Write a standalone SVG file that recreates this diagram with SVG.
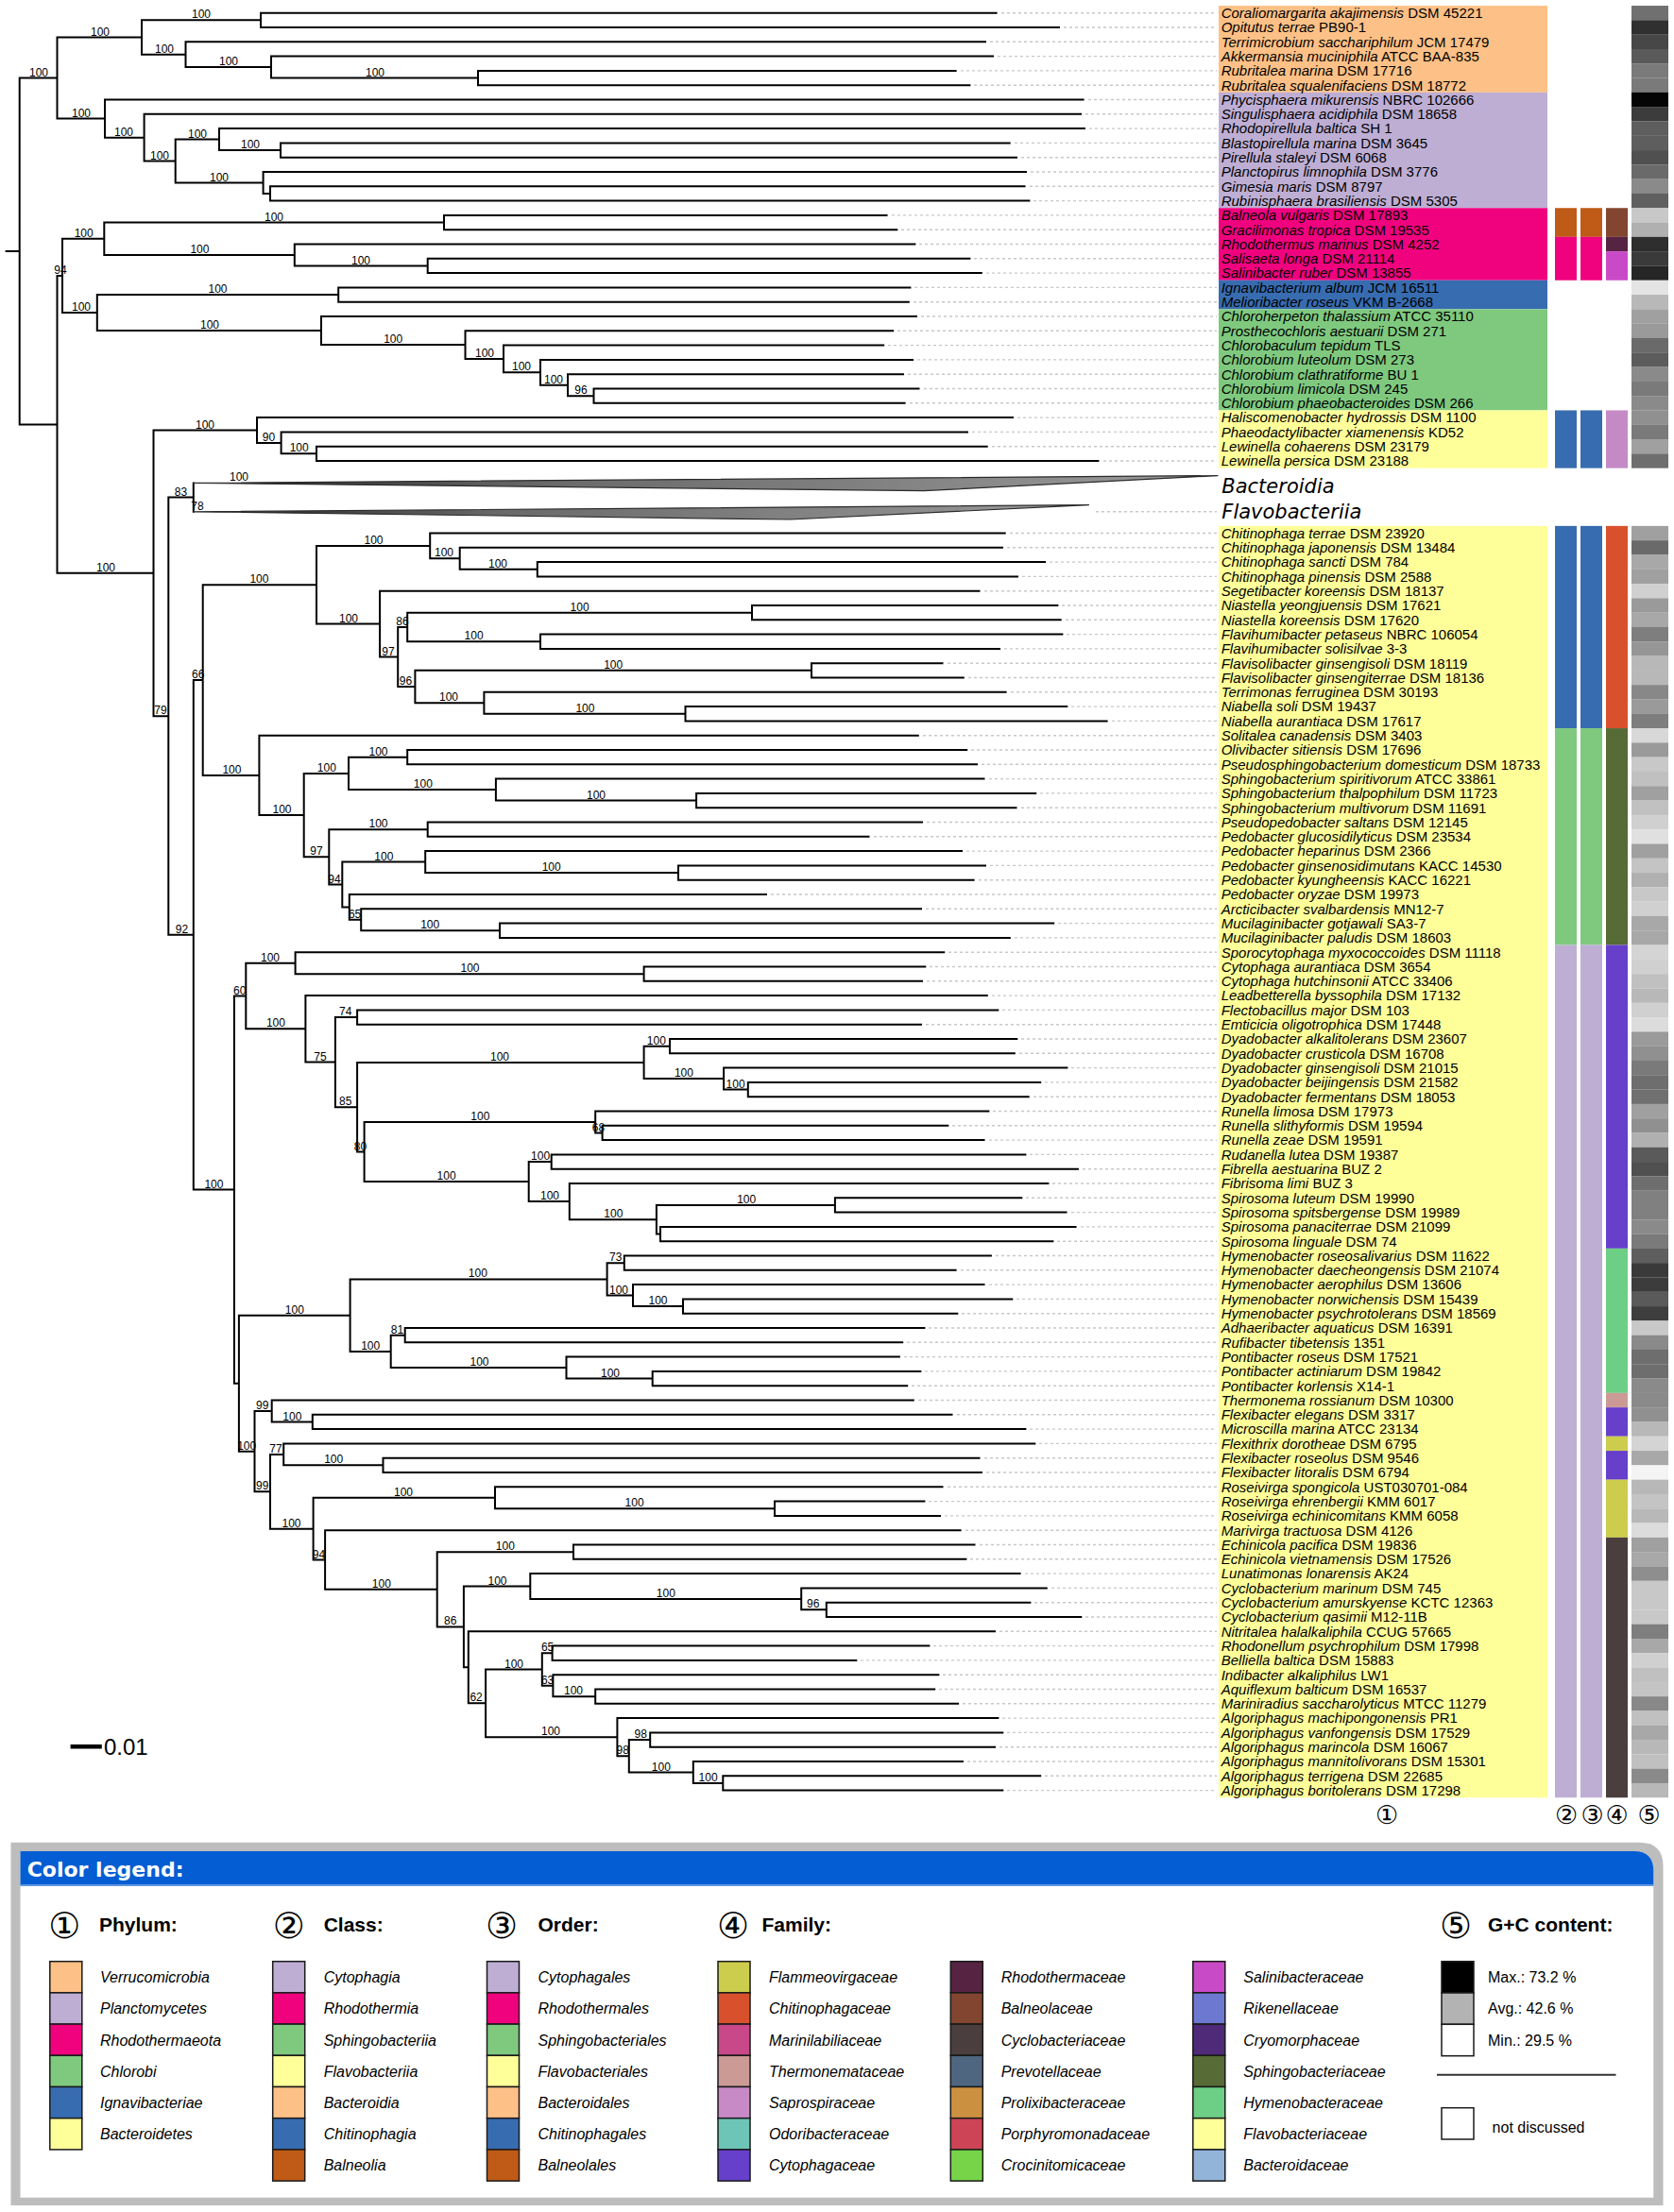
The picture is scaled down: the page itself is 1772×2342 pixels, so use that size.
<svg xmlns="http://www.w3.org/2000/svg" width="1772" height="2342" viewBox="0 0 1772 2342">
<defs>
<style>
.t{font-family:"Liberation Sans",Arial,sans-serif;font-size:15px;fill:#000}
.i{font-style:italic}
.bs{font-family:"Liberation Sans",Arial,sans-serif;font-size:12px;text-anchor:middle;fill:#000}
.br{fill:none;stroke:#000;stroke-width:2;stroke-linecap:square}
.dash{fill:none;stroke:#c8c8c8;stroke-width:1.4;stroke-dasharray:3 3}
.cl{font-family:"DejaVu Sans",sans-serif;fill:#000}
.lh{font-family:"Liberation Sans",Arial,sans-serif;font-size:21px;font-weight:bold;fill:#000}
.ll{font-family:"Liberation Sans",Arial,sans-serif;font-size:16px;font-style:italic;fill:#000}
.lr{font-family:"Liberation Sans",Arial,sans-serif;font-size:16px;fill:#000}
.sw{stroke:#1a1a1a;stroke-width:1.5}
</style>
<linearGradient id="tg" x1="0" y1="0" x2="1" y2="0">
<stop offset="0" stop-color="#222"/>
<stop offset="0.35" stop-color="#6a6a6a"/>
<stop offset="1" stop-color="#9a9a9a"/>
</linearGradient>
</defs>
<rect width="1772" height="2342" fill="#fff"/>

<g id="label-backgrounds" transform="translate(1290,6.05)">
<rect x="0" y="0" width="348" height="91.8" fill="#FDC086"/>
<rect x="0" y="91.8" width="348" height="122.4" fill="#BEAED4"/>
<rect x="0" y="214.2" width="348" height="76.5" fill="#F0027F"/>
<rect x="0" y="290.7" width="348" height="30.6" fill="#386CB0"/>
<rect x="0" y="321.3" width="348" height="107.1" fill="#7FC97F"/>
<rect x="0" y="428.4" width="348" height="61.2" fill="#FFFF99"/>
<rect x="0" y="550.8" width="348" height="1346.4" fill="#FFFF99"/>
</g>

<g id="connectors">
<path class="dash" d="M1060 13.7H1288M1126 29H1288M1048 44.3H1288M1056 59.6H1288M1017 74.9H1288M1031 90.2H1288M1152 105.5H1288M1149 120.8H1288M1153 136.1H1288M1074 151.4H1288M1081 166.7H1288M1091 182H1288M1090 197.3H1288M1094 212.6H1288M944 227.9H1288M954 243.2H1288M973 258.5H1288M1031 273.8H1288M1044 289.1H1288M968 304.4H1288M967 319.7H1288M975 335H1288M950 350.3H1288M940 365.6H1288M971 380.9H1288M961 396.2H1288M978 411.5H1288M963 426.8H1288M1077 442.1H1288M1029 457.4H1288M1050 472.7H1288M1168 488H1288M1160 541.8H1288M1069 564.5H1288M1066 579.8H1288M1111 595.1H1288M1082 610.4H1288M1042 625.7H1288M1124 641H1288M1128 656.3H1288M1129 671.6H1288M1063 686.9H1288M1003 702.2H1288M1025 717.5H1288M1070 732.8H1288M1134 748.1H1288M1177 763.4H1288M977 778.7H1288M1028 794H1288M1039 809.3H1288M1047 824.6H1288M1101 839.9H1288M1081 855.2H1288M981 870.5H1288M925 885.8H1288M1023 901.1H1288M1048 916.4H1288M1036 931.7H1288M816 947H1288M980 962.3H1288M1120 977.6H1288M1074 992.9H1288M1004 1008.2H1288M984 1023.5H1288M981 1038.8H1288M1050 1054.1H1288M1061 1069.4H1288M980 1084.7H1288M1081 1100H1288M1079 1115.3H1288M1134 1130.6H1288M1106 1145.9H1288M1094 1161.2H1288M1051 1176.5H1288M1008 1191.8H1288M1047 1207.1H1288M1090 1222.4H1288M1146 1237.7H1288M1114 1253H1288M1086 1268.3H1288M1134 1283.6H1288M1144 1298.9H1288M1119 1314.2H1288M1054 1329.5H1288M1017 1344.8H1288M1047 1360.1H1288M1076 1375.4H1288M1018 1390.7H1288M983 1406H1288M960 1421.3H1288M957 1436.6H1288M979 1451.9H1288M965 1467.2H1288M972 1482.5H1288M1013 1497.8H1288M1090 1513.1H1288M1100 1528.4H1288M1042 1543.7H1288M1044 1559H1288M1003 1574.3H1288M983 1589.6H1288M1000 1604.9H1288M1022 1620.2H1288M1037 1635.5H1288M1027 1650.8H1288M1085 1666.1H1288M1113 1681.4H1288M1095 1696.7H1288M1149 1712H1288M1058 1727.3H1288M988 1742.6H1288M911 1757.9H1288M998 1773.2H1288M994 1788.5H1288M1019 1803.8H1288M1061 1819.1H1288M1066 1834.4H1288M1058 1849.7H1288M1024 1865H1288M1106 1880.3H1288M1066 1895.6H1288"/>
<path class="br" d="M6.6 266H20.7M20.7 82.56V449.4M20.7 82.56H60.5M20.7 449.4H60.5
M60.5 39.52V125.6M60.5 39.52H150M60.5 125.6H111
M150 21.35V57.69M150 21.35H276M150 57.69H196.5
M276 13.7V29M276 13.7H1054.6M276 29H1121
M196.5 44.3V71.08M196.5 44.3H1043M196.5 71.08H287
M287 59.6V82.55M287 59.6H1051M287 82.55H506
M506 74.9V90.2M506 74.9H1011.6M506 90.2H1026.4
M111 105.5V145.7M111 105.5H1146.6M111 145.7H152.6
M152.6 120.8V170.55M152.6 120.8H1144M152.6 170.55H185.7
M185.7 147.6V193.5M185.7 147.6H232M185.7 193.5H278.6
M232 136.1V159.05M232 136.1H1148M232 159.05H297
M297 151.4V166.7M297 151.4H1068.7M297 166.7H1076
M278.6 182V204.95M278.6 182H1086M278.6 204.95H286
M286 197.3V212.6M286 197.3H1084.5M286 212.6H1089.4
M60.5 291.9V606.85M60.5 291.9H66M60.5 606.85H162.5
M66 252.8V331.05M66 252.8H110.3M66 331.05H102.8
M110.3 235.55V269.98M110.3 235.55H470M110.3 269.98H311.8
M470 227.9V243.2M470 227.9H938.5M470 243.2H949.3
M311.8 258.5V281.45M311.8 258.5H968.4M311.8 281.45H452.7
M452.7 273.8V289.1M452.7 273.8H1026.4M452.7 289.1H1038.8
M102.8 312.05V350.05M102.8 312.05H358.2M102.8 350.05H340
M358.2 304.4V319.7M358.2 304.4H963.4M358.2 319.7H961.8
M340 335V365.1M340 335H970M340 365.1H492.5
M492.5 350.3V379.95M492.5 350.3H945.2M492.5 379.95H533
M533 365.6V394.3M533 365.6H935.2M533 394.3H572
M572 380.9V407.7M572 380.9H966M572 407.7H601
M601 396.2V419.15M601 396.2H956M601 419.15H628.5
M628.5 411.5V426.8M628.5 411.5H972.5M628.5 426.8H957.6
M162.5 455.5V758.2M162.5 455.5H272M162.5 758.2H178.3
M272 442.1V468.9M272 442.1H1072M272 468.9H297.6
M297.6 457.4V480.35M297.6 457.4H1024M297.6 480.35H335
M335 472.7V488M335 472.7H1044.7M335 488H1162.4
M178.3 526.6V989.85M178.3 526.6H204.8M178.3 989.85H204.8
M204.8 511.4V541.8
M204.8 720.1V1259.6M204.8 720.1H214.7M204.8 1259.6H247.9
M214.7 619.25V820.9M214.7 619.25H335M214.7 820.9H274.4
M335 577.9V660.6M335 577.9H455.2M335 660.6H402.1
M455.2 564.5V591.3M455.2 564.5H1063.7M455.2 591.3H486.7
M486.7 579.8V602.75M486.7 579.8H1061M486.7 602.75H568.8
M568.8 595.1V610.4M568.8 595.1H1106M568.8 610.4H1077
M402.1 625.7V695.5M402.1 625.7H1036.5M402.1 695.5H421.2
M421.2 663.95V727.1M421.2 663.95H431.2M421.2 727.1H439.4
M431.2 648.65V679.25M431.2 648.65H796M431.2 679.25H572
M796 641V656.3M796 641H1119.4M796 656.3H1122.7
M572 671.6V686.9M572 671.6H1124.4M572 686.9H1058
M439.4 709.85V744.3M439.4 709.85H859M439.4 744.3H512.4
M859 702.2V717.5M859 702.2H997.5M859 717.5H1019.8
M512.4 732.8V755.75M512.4 732.8H1064.6M512.4 755.75H725.5
M725.5 748.1V763.4M725.5 748.1H1129.3M725.5 763.4H1171.6
M274.4 778.7V863.1M274.4 778.7H971.8M274.4 863.1H321.7
M321.7 818.9V907.3M321.7 818.9H369M321.7 907.3H348.3
M369 801.65V836.1M369 801.65H431.2M369 836.1H524.9
M431.2 794V809.3M431.2 794H1023.2M431.2 809.3H1034
M524.9 824.6V847.55M524.9 824.6H1041.5M524.9 847.55H737.1
M737.1 839.9V855.2M737.1 839.9H1096.2M737.1 855.2H1075.5
M348.3 878.15V936.5M348.3 878.15H452.7M348.3 936.5H362.3
M452.7 870.5V885.8M452.7 870.5H976M452.7 885.8H919.5
M362.3 912.6V960.4M362.3 912.6H450.2M362.3 960.4H369.8
M450.2 901.1V924.05M450.2 901.1H1018M450.2 924.05H718
M718 916.4V931.7M718 916.4H1043M718 931.7H1030.6
M369.8 947V973.8M369.8 947H811M369.8 973.8H382.2
M382.2 962.3V985.25M382.2 962.3H975M382.2 985.25H529
M529 977.6V992.9M529 977.6H1115.2M529 992.9H1068.8
M247.9 1054.5V1464.65M247.9 1054.5H260.3M247.9 1464.65H252.9
M260.3 1019.7V1089.35M260.3 1019.7H312.6M260.3 1089.35H323.4
M312.6 1008.2V1031.15M312.6 1008.2H999.2M312.6 1031.15H681.6
M681.6 1023.5V1038.8M681.6 1023.5H979.3M681.6 1038.8H976
M323.4 1054.1V1124.6M323.4 1054.1H1044.8M323.4 1124.6H354.9
M354.9 1077.05V1172.2M354.9 1077.05H378.1M354.9 1172.2H378.1
M378.1 1069.4V1084.7M378.1 1069.4H1056.3M378.1 1084.7H975
M378.1 1124.9V1219.55M378.1 1124.9H681.6M378.1 1219.55H385.6
M681.6 1107.65V1142.1M681.6 1107.65H709M681.6 1142.1H766.1
M709 1100V1115.3M709 1100H1076.3M709 1115.3H1073.8
M766.1 1130.6V1153.55M766.1 1130.6H1129.4M766.1 1153.55H791.8
M791.8 1145.9V1161.2M791.8 1145.9H1101.2M791.8 1161.2H1088.7
M385.6 1188V1251.1M385.6 1188H630.2M385.6 1251.1H559.7
M630.2 1176.5V1199.45M630.2 1176.5H1046.4M630.2 1199.45H637.6
M637.6 1191.8V1207.1M637.6 1191.8H1003.3M637.6 1207.1H1041.5
M559.7 1230.05V1272.1M559.7 1230.05H583.7M559.7 1272.1H602.8
M583.7 1222.4V1237.7M583.7 1222.4H1085.4M583.7 1237.7H1140.9
M602.8 1253V1291.25M602.8 1253H1109.4M602.8 1291.25H694.9
M694.9 1275.95V1306.55M694.9 1275.95H883.9M694.9 1306.55H699
M883.9 1268.3V1283.6M883.9 1268.3H1081.3M883.9 1283.6H1128.5
M699 1298.9V1314.2M699 1298.9H1138.5M699 1314.2H1114.4
M252.9 1392.65V1536.65M252.9 1392.65H370.6M252.9 1536.65H269.5
M370.6 1354.4V1430.9M370.6 1354.4H642.6M370.6 1430.9H413.7
M642.6 1337.15V1371.6M642.6 1337.15H660.8M642.6 1371.6H670
M660.8 1329.5V1344.8M660.8 1329.5H1048.9M660.8 1344.8H1011.6
M670 1360.1V1383.05M670 1360.1H1041.5M670 1383.05H723
M723 1375.4V1390.7M723 1375.4H1071.3M723 1390.7H1013.3
M413.7 1413.65V1448.1M413.7 1413.65H428.7M413.7 1448.1H599.5
M428.7 1406V1421.3M428.7 1406H978.4M428.7 1421.3H955.2
M599.5 1436.6V1459.55M599.5 1436.6H951.9M599.5 1459.55H690.7
M690.7 1451.9V1467.2M690.7 1451.9H974.3M690.7 1467.2H960.2
M269.5 1494V1579.3M269.5 1494H287.7M269.5 1579.3H286
M287.7 1482.5V1505.45M287.7 1482.5H966.8M287.7 1505.45H330.8
M330.8 1497.8V1513.1M330.8 1497.8H1007.5M330.8 1513.1H1085.4
M286 1539.9V1618.65M286 1539.9H300.2M286 1618.65H331.6
M300.2 1528.4V1551.35M300.2 1528.4H1095.3M300.2 1551.35H405.5
M405.5 1543.7V1559M405.5 1543.7H1036.5M405.5 1559H1039
M331.6 1585.8V1651.5M331.6 1585.8H524M331.6 1651.5H344.1
M524 1574.3V1597.25M524 1574.3H997.5M524 1597.25H820
M820 1589.6V1604.9M820 1589.6H978.4M820 1604.9H995
M344.1 1620.2V1682.8M344.1 1620.2H1016.6M344.1 1682.8H462.7
M462.7 1643.15V1722.4M462.7 1643.15H607M462.7 1722.4H490.9
M607 1635.5V1650.8M607 1635.5H1031.5M607 1650.8H1022.4
M490.9 1679.5V1765.3M490.9 1679.5H561.3M490.9 1765.3H495.8
M561.3 1666.1V1692.9M561.3 1666.1H1079.6M561.3 1692.9H848.2
M848.2 1681.4V1704.35M848.2 1681.4H1107.8M848.2 1704.35H874.8
M874.8 1696.7V1712M874.8 1696.7H1090.4M874.8 1712H1144.3
M495.8 1727.3V1803.35M495.8 1727.3H1053M495.8 1803.35H514.1
M514.1 1767.5V1839.2M514.1 1767.5H573.8M514.1 1839.2H653.4
M573.8 1750.25V1784.7M573.8 1750.25H584.6M573.8 1784.7H585.4
M584.6 1742.6V1757.9M584.6 1742.6H983.4M584.6 1757.9H906.3
M585.4 1773.2V1796.15M585.4 1773.2H993.4M585.4 1796.15H630.2
M630.2 1788.5V1803.8M630.2 1788.5H989.2M630.2 1803.8H1014.1
M653.4 1819.1V1859.3M653.4 1819.1H1056.4M653.4 1859.3H665.8
M665.8 1842.05V1876.5M665.8 1842.05H688.2M665.8 1876.5H733.8
M688.2 1834.4V1849.7M688.2 1834.4H1061.3M688.2 1849.7H1053
M733.8 1865V1887.95M733.8 1865H1019M733.8 1887.95H765.3
M765.3 1880.3V1895.6M765.3 1880.3H1101.2M765.3 1895.6H1061.3"/>
</g>

<g id="clade-Bacteroidia">
<polygon points="204.8,511.4 1289,503.6 978,519.6" fill="url(#tg)" stroke="#2a2a2a" stroke-width="1.2" stroke-linejoin="round"/>
<text x="1293.3" y="521.7" font-family="DejaVu Sans,sans-serif" font-size="21" font-style="italic">Bacteroidia</text>
</g>
<g id="clade-Flavobacteriia">
<polygon points="204.8,541.8 1152.5,534.6 837,550" fill="url(#tg)" stroke="#2a2a2a" stroke-width="1.2" stroke-linejoin="round"/>
<text x="1293.3" y="549.3" font-family="DejaVu Sans,sans-serif" font-size="21" font-style="italic">Flavobacteriia</text>
</g>

<g id="support" class="bs">
<text x="41" y="80.6">100</text><text x="106" y="37.5">100</text><text x="213" y="19.4">100</text><text x="174" y="55.7">100</text><text x="242" y="69.1">100</text><text x="397" y="80.6">100</text><text x="86" y="123.6">100</text><text x="131" y="143.7">100</text><text x="169" y="168.6">100</text><text x="209" y="145.6">100</text><text x="265" y="157">100</text><text x="232" y="191.5">100</text>
<text x="64" y="289.9">94</text><text x="88.7" y="250.8">100</text><text x="290" y="233.6">100</text><text x="211.4" y="268">100</text><text x="382" y="279.5">100</text><text x="86" y="329">100</text><text x="230.5" y="310">100</text><text x="222" y="348">100</text><text x="416.2" y="363.1">100</text><text x="513" y="378">100</text><text x="552" y="392.3">100</text><text x="586" y="405.7">100</text><text x="615" y="417.2">96</text>
<text x="112" y="604.9">100</text><text x="217" y="453.5">100</text><text x="284.4" y="466.9">90</text><text x="316.7" y="478.4">100</text><text x="170" y="756.2">79</text><text x="191.5" y="524.6">83</text><text x="253" y="509">100</text><text x="209" y="540">78</text><text x="192.4" y="987.9">92</text><text x="209.8" y="718.1">66</text>
<text x="274.4" y="617.3">100</text><text x="395.5" y="575.9">100</text><text x="470" y="589.3">100</text><text x="527" y="600.8">100</text><text x="369" y="658.6">100</text><text x="411" y="693.5">97</text><text x="426" y="662">86</text><text x="613.6" y="646.7">100</text><text x="501.6" y="677.3">100</text><text x="429.5" y="725.1">96</text><text x="649.2" y="707.9">100</text><text x="475" y="742.3">100</text><text x="619.4" y="753.8">100</text>
<text x="245.4" y="818.9">100</text><text x="298.5" y="861.1">100</text><text x="345.8" y="816.9">100</text><text x="400.5" y="799.7">100</text><text x="447.8" y="834.1">100</text><text x="631" y="845.6">100</text><text x="335" y="905.3">97</text><text x="400.5" y="876.2">100</text><text x="354" y="934.5">94</text><text x="406.3" y="910.6">100</text><text x="583.7" y="922.1">100</text><text x="375.6" y="971.8">65</text><text x="455.2" y="983.3">100</text>
<text x="226.4" y="1257.6">100</text><text x="253.7" y="1052.5">60</text><text x="286" y="1017.7">100</text><text x="497.5" y="1029.2">100</text><text x="291.9" y="1087.4">100</text><text x="339" y="1122.6">75</text><text x="365.7" y="1075.1">74</text><text x="365.7" y="1170.2">85</text><text x="529" y="1122.9">100</text><text x="694.8" y="1105.7">100</text><text x="723.9" y="1140.1">100</text><text x="778.6" y="1151.6">100</text><text x="381.4" y="1217.6">80</text><text x="508.3" y="1186">100</text><text x="633.5" y="1197.5">68</text><text x="472.6" y="1249.1">100</text><text x="572.1" y="1228.1">100</text><text x="582" y="1270.1">100</text><text x="649.3" y="1289.3">100</text><text x="790.2" y="1274">100</text>
<text x="311.8" y="1390.7">100</text><text x="505.8" y="1352.4">100</text><text x="651.7" y="1335.2">73</text><text x="655" y="1369.6">100</text><text x="696.5" y="1381.1">100</text><text x="392.2" y="1428.9">100</text><text x="420.4" y="1411.7">81</text><text x="507.5" y="1446.1">100</text><text x="646" y="1457.6">100</text>
<text x="261.2" y="1534.7">100</text><text x="277.8" y="1492">99</text><text x="309.3" y="1503.5">100</text><text x="277.8" y="1577.3">99</text><text x="291.9" y="1537.9">77</text><text x="353.2" y="1549.4">100</text><text x="308.5" y="1616.7">100</text><text x="427" y="1583.8">100</text><text x="671.6" y="1595.3">100</text><text x="337.5" y="1649.5">94</text><text x="403.8" y="1680.8">100</text><text x="534.8" y="1641.2">100</text><text x="476.8" y="1720.4">86</text><text x="526.5" y="1677.5">100</text><text x="704.8" y="1690.9">100</text><text x="860.7" y="1702.4">96</text><text x="504.1" y="1801.4">62</text><text x="544" y="1765.5">100</text><text x="579.6" y="1748.3">65</text><text x="579.6" y="1782.7">63</text><text x="607" y="1794.2">100</text><text x="583" y="1837.2">100</text><text x="659.2" y="1857.3">98</text><text x="678.3" y="1840.1">98</text><text x="699.8" y="1874.5">100</text><text x="749.6" y="1886">100</text>
</g>

<g id="scale-bar">
<line x1="74.6" y1="1849.3" x2="107.8" y2="1849.3" stroke="#000" stroke-width="4.5"/>
<text x="110" y="1858" font-family="Liberation Sans,Arial,sans-serif" font-size="24">0.01</text>
</g>

<g id="taxa" class="t" transform="translate(1292.7,19)">
<g id="n001"><text y="0"><tspan class="i">Coraliomargarita akajimensis</tspan> DSM 45221</text></g>
<g id="n002"><text y="15.3"><tspan class="i">Opitutus terrae</tspan> PB90-1</text></g>
<g id="n003"><text y="30.6"><tspan class="i">Terrimicrobium sacchariphilum</tspan> JCM 17479</text></g>
<g id="n004"><text y="45.9"><tspan class="i">Akkermansia muciniphila</tspan> ATCC BAA-835</text></g>
<g id="n005"><text y="61.2"><tspan class="i">Rubritalea marina</tspan> DSM 17716</text></g>
<g id="n006"><text y="76.5"><tspan class="i">Rubritalea squalenifaciens</tspan> DSM 18772</text></g>
<g id="n007"><text y="91.8"><tspan class="i">Phycisphaera mikurensis</tspan> NBRC 102666</text></g>
<g id="n008"><text y="107.1"><tspan class="i">Singulisphaera acidiphila</tspan> DSM 18658</text></g>
<g id="n009"><text y="122.4"><tspan class="i">Rhodopirellula baltica</tspan> SH 1</text></g>
<g id="n010"><text y="137.7"><tspan class="i">Blastopirellula marina</tspan> DSM 3645</text></g>
<g id="n011"><text y="153"><tspan class="i">Pirellula staleyi</tspan> DSM 6068</text></g>
<g id="n012"><text y="168.3"><tspan class="i">Planctopirus limnophila</tspan> DSM 3776</text></g>
<g id="n013"><text y="183.6"><tspan class="i">Gimesia maris</tspan> DSM 8797</text></g>
<g id="n014"><text y="198.9"><tspan class="i">Rubinisphaera brasiliensis</tspan> DSM 5305</text></g>
<g id="n015"><text y="214.2"><tspan class="i">Balneola vulgaris</tspan> DSM 17893</text></g>
<g id="n016"><text y="229.5"><tspan class="i">Gracilimonas tropica</tspan> DSM 19535</text></g>
<g id="n017"><text y="244.8"><tspan class="i">Rhodothermus marinus</tspan> DSM 4252</text></g>
<g id="n018"><text y="260.1"><tspan class="i">Salisaeta longa</tspan> DSM 21114</text></g>
<g id="n019"><text y="275.4"><tspan class="i">Salinibacter ruber</tspan> DSM 13855</text></g>
<g id="n020"><text y="290.7"><tspan class="i">Ignavibacterium album</tspan> JCM 16511</text></g>
<g id="n021"><text y="306"><tspan class="i">Melioribacter roseus</tspan> VKM B-2668</text></g>
<g id="n022"><text y="321.3"><tspan class="i">Chloroherpeton thalassium</tspan> ATCC 35110</text></g>
<g id="n023"><text y="336.6"><tspan class="i">Prosthecochloris aestuarii</tspan> DSM 271</text></g>
<g id="n024"><text y="351.9"><tspan class="i">Chlorobaculum tepidum</tspan> TLS</text></g>
<g id="n025"><text y="367.2"><tspan class="i">Chlorobium luteolum</tspan> DSM 273</text></g>
<g id="n026"><text y="382.5"><tspan class="i">Chlorobium clathratiforme</tspan> BU 1</text></g>
<g id="n027"><text y="397.8"><tspan class="i">Chlorobium limicola</tspan> DSM 245</text></g>
<g id="n028"><text y="413.1"><tspan class="i">Chlorobium phaeobacteroides</tspan> DSM 266</text></g>
<g id="n029"><text y="428.4"><tspan class="i">Haliscomenobacter hydrossis</tspan> DSM 1100</text></g>
<g id="n030"><text y="443.7"><tspan class="i">Phaeodactylibacter xiamenensis</tspan> KD52</text></g>
<g id="n031"><text y="459"><tspan class="i">Lewinella cohaerens</tspan> DSM 23179</text></g>
<g id="n032"><text y="474.3"><tspan class="i">Lewinella persica</tspan> DSM 23188</text></g>
<g id="n033"><text y="550.8"><tspan class="i">Chitinophaga terrae</tspan> DSM 23920</text></g>
<g id="n034"><text y="566.1"><tspan class="i">Chitinophaga japonensis</tspan> DSM 13484</text></g>
<g id="n035"><text y="581.4"><tspan class="i">Chitinophaga sancti</tspan> DSM 784</text></g>
<g id="n036"><text y="596.7"><tspan class="i">Chitinophaga pinensis</tspan> DSM 2588</text></g>
<g id="n037"><text y="612"><tspan class="i">Segetibacter koreensis</tspan> DSM 18137</text></g>
<g id="n038"><text y="627.3"><tspan class="i">Niastella yeongjuensis</tspan> DSM 17621</text></g>
<g id="n039"><text y="642.6"><tspan class="i">Niastella koreensis</tspan> DSM 17620</text></g>
<g id="n040"><text y="657.9"><tspan class="i">Flavihumibacter petaseus</tspan> NBRC 106054</text></g>
<g id="n041"><text y="673.2"><tspan class="i">Flavihumibacter solisilvae</tspan> 3-3</text></g>
<g id="n042"><text y="688.5"><tspan class="i">Flavisolibacter ginsengisoli</tspan> DSM 18119</text></g>
<g id="n043"><text y="703.8"><tspan class="i">Flavisolibacter ginsengiterrae</tspan> DSM 18136</text></g>
<g id="n044"><text y="719.1"><tspan class="i">Terrimonas ferruginea</tspan> DSM 30193</text></g>
<g id="n045"><text y="734.4"><tspan class="i">Niabella soli</tspan> DSM 19437</text></g>
<g id="n046"><text y="749.7"><tspan class="i">Niabella aurantiaca</tspan> DSM 17617</text></g>
<g id="n047"><text y="765"><tspan class="i">Solitalea canadensis</tspan> DSM 3403</text></g>
<g id="n048"><text y="780.3"><tspan class="i">Olivibacter sitiensis</tspan> DSM 17696</text></g>
<g id="n049"><text y="795.6"><tspan class="i">Pseudosphingobacterium domesticum</tspan> DSM 18733</text></g>
<g id="n050"><text y="810.9"><tspan class="i">Sphingobacterium spiritivorum</tspan> ATCC 33861</text></g>
<g id="n051"><text y="826.2"><tspan class="i">Sphingobacterium thalpophilum</tspan> DSM 11723</text></g>
<g id="n052"><text y="841.5"><tspan class="i">Sphingobacterium multivorum</tspan> DSM 11691</text></g>
<g id="n053"><text y="856.8"><tspan class="i">Pseudopedobacter saltans</tspan> DSM 12145</text></g>
<g id="n054"><text y="872.1"><tspan class="i">Pedobacter glucosidilyticus</tspan> DSM 23534</text></g>
<g id="n055"><text y="887.4"><tspan class="i">Pedobacter heparinus</tspan> DSM 2366</text></g>
<g id="n056"><text y="902.7"><tspan class="i">Pedobacter ginsenosidimutans</tspan> KACC 14530</text></g>
<g id="n057"><text y="918"><tspan class="i">Pedobacter kyungheensis</tspan> KACC 16221</text></g>
<g id="n058"><text y="933.3"><tspan class="i">Pedobacter oryzae</tspan> DSM 19973</text></g>
<g id="n059"><text y="948.6"><tspan class="i">Arcticibacter svalbardensis</tspan> MN12-7</text></g>
<g id="n060"><text y="963.9"><tspan class="i">Mucilaginibacter gotjawali</tspan> SA3-7</text></g>
<g id="n061"><text y="979.2"><tspan class="i">Mucilaginibacter paludis</tspan> DSM 18603</text></g>
<g id="n062"><text y="994.5"><tspan class="i">Sporocytophaga myxococcoides</tspan> DSM 11118</text></g>
<g id="n063"><text y="1009.8"><tspan class="i">Cytophaga aurantiaca</tspan> DSM 3654</text></g>
<g id="n064"><text y="1025.1"><tspan class="i">Cytophaga hutchinsonii</tspan> ATCC 33406</text></g>
<g id="n065"><text y="1040.4"><tspan class="i">Leadbetterella byssophila</tspan> DSM 17132</text></g>
<g id="n066"><text y="1055.7"><tspan class="i">Flectobacillus major</tspan> DSM 103</text></g>
<g id="n067"><text y="1071"><tspan class="i">Emticicia oligotrophica</tspan> DSM 17448</text></g>
<g id="n068"><text y="1086.3"><tspan class="i">Dyadobacter alkalitolerans</tspan> DSM 23607</text></g>
<g id="n069"><text y="1101.6"><tspan class="i">Dyadobacter crusticola</tspan> DSM 16708</text></g>
<g id="n070"><text y="1116.9"><tspan class="i">Dyadobacter ginsengisoli</tspan> DSM 21015</text></g>
<g id="n071"><text y="1132.2"><tspan class="i">Dyadobacter beijingensis</tspan> DSM 21582</text></g>
<g id="n072"><text y="1147.5"><tspan class="i">Dyadobacter fermentans</tspan> DSM 18053</text></g>
<g id="n073"><text y="1162.8"><tspan class="i">Runella limosa</tspan> DSM 17973</text></g>
<g id="n074"><text y="1178.1"><tspan class="i">Runella slithyformis</tspan> DSM 19594</text></g>
<g id="n075"><text y="1193.4"><tspan class="i">Runella zeae</tspan> DSM 19591</text></g>
<g id="n076"><text y="1208.7"><tspan class="i">Rudanella lutea</tspan> DSM 19387</text></g>
<g id="n077"><text y="1224"><tspan class="i">Fibrella aestuarina</tspan> BUZ 2</text></g>
<g id="n078"><text y="1239.3"><tspan class="i">Fibrisoma limi</tspan> BUZ 3</text></g>
<g id="n079"><text y="1254.6"><tspan class="i">Spirosoma luteum</tspan> DSM 19990</text></g>
<g id="n080"><text y="1269.9"><tspan class="i">Spirosoma spitsbergense</tspan> DSM 19989</text></g>
<g id="n081"><text y="1285.2"><tspan class="i">Spirosoma panaciterrae</tspan> DSM 21099</text></g>
<g id="n082"><text y="1300.5"><tspan class="i">Spirosoma linguale</tspan> DSM 74</text></g>
<g id="n083"><text y="1315.8"><tspan class="i">Hymenobacter roseosalivarius</tspan> DSM 11622</text></g>
<g id="n084"><text y="1331.1"><tspan class="i">Hymenobacter daecheongensis</tspan> DSM 21074</text></g>
<g id="n085"><text y="1346.4"><tspan class="i">Hymenobacter aerophilus</tspan> DSM 13606</text></g>
<g id="n086"><text y="1361.7"><tspan class="i">Hymenobacter norwichensis</tspan> DSM 15439</text></g>
<g id="n087"><text y="1377"><tspan class="i">Hymenobacter psychrotolerans</tspan> DSM 18569</text></g>
<g id="n088"><text y="1392.3"><tspan class="i">Adhaeribacter aquaticus</tspan> DSM 16391</text></g>
<g id="n089"><text y="1407.6"><tspan class="i">Rufibacter tibetensis</tspan> 1351</text></g>
<g id="n090"><text y="1422.9"><tspan class="i">Pontibacter roseus</tspan> DSM 17521</text></g>
<g id="n091"><text y="1438.2"><tspan class="i">Pontibacter actiniarum</tspan> DSM 19842</text></g>
<g id="n092"><text y="1453.5"><tspan class="i">Pontibacter korlensis</tspan> X14-1</text></g>
<g id="n093"><text y="1468.8"><tspan class="i">Thermonema rossianum</tspan> DSM 10300</text></g>
<g id="n094"><text y="1484.1"><tspan class="i">Flexibacter elegans</tspan> DSM 3317</text></g>
<g id="n095"><text y="1499.4"><tspan class="i">Microscilla marina</tspan> ATCC 23134</text></g>
<g id="n096"><text y="1514.7"><tspan class="i">Flexithrix dorotheae</tspan> DSM 6795</text></g>
<g id="n097"><text y="1530"><tspan class="i">Flexibacter roseolus</tspan> DSM 9546</text></g>
<g id="n098"><text y="1545.3"><tspan class="i">Flexibacter litoralis</tspan> DSM 6794</text></g>
<g id="n099"><text y="1560.6"><tspan class="i">Roseivirga spongicola</tspan> UST030701-084</text></g>
<g id="n100"><text y="1575.9"><tspan class="i">Roseivirga ehrenbergii</tspan> KMM 6017</text></g>
<g id="n101"><text y="1591.2"><tspan class="i">Roseivirga echinicomitans</tspan> KMM 6058</text></g>
<g id="n102"><text y="1606.5"><tspan class="i">Marivirga tractuosa</tspan> DSM 4126</text></g>
<g id="n103"><text y="1621.8"><tspan class="i">Echinicola pacifica</tspan> DSM 19836</text></g>
<g id="n104"><text y="1637.1"><tspan class="i">Echinicola vietnamensis</tspan> DSM 17526</text></g>
<g id="n105"><text y="1652.4"><tspan class="i">Lunatimonas lonarensis</tspan> AK24</text></g>
<g id="n106"><text y="1667.7"><tspan class="i">Cyclobacterium marinum</tspan> DSM 745</text></g>
<g id="n107"><text y="1683"><tspan class="i">Cyclobacterium amurskyense</tspan> KCTC 12363</text></g>
<g id="n108"><text y="1698.3"><tspan class="i">Cyclobacterium qasimii</tspan> M12-11B</text></g>
<g id="n109"><text y="1713.6"><tspan class="i">Nitritalea halalkaliphila</tspan> CCUG 57665</text></g>
<g id="n110"><text y="1728.9"><tspan class="i">Rhodonellum psychrophilum</tspan> DSM 17998</text></g>
<g id="n111"><text y="1744.2"><tspan class="i">Belliella baltica</tspan> DSM 15883</text></g>
<g id="n112"><text y="1759.5"><tspan class="i">Indibacter alkaliphilus</tspan> LW1</text></g>
<g id="n113"><text y="1774.8"><tspan class="i">Aquiflexum balticum</tspan> DSM 16537</text></g>
<g id="n114"><text y="1790.1"><tspan class="i">Mariniradius saccharolyticus</tspan> MTCC 11279</text></g>
<g id="n115"><text y="1805.4"><tspan class="i">Algoriphagus machipongonensis</tspan> PR1</text></g>
<g id="n116"><text y="1820.7"><tspan class="i">Algoriphagus vanfongensis</tspan> DSM 17529</text></g>
<g id="n117"><text y="1836"><tspan class="i">Algoriphagus marincola</tspan> DSM 16067</text></g>
<g id="n118"><text y="1851.3"><tspan class="i">Algoriphagus mannitolivorans</tspan> DSM 15301</text></g>
<g id="n119"><text y="1866.6"><tspan class="i">Algoriphagus terrigena</tspan> DSM 22685</text></g>
<g id="n120"><text y="1881.9"><tspan class="i">Algoriphagus boritolerans</tspan> DSM 17298</text></g>
</g>

<g id="class-bar" transform="translate(1646,6.05)">
<rect y="214.2" width="23" height="30.6" fill="#BF5B17"/>
<rect y="244.8" width="23" height="45.9" fill="#F0027F"/>
<rect y="428.4" width="23" height="61.2" fill="#386CB0"/>
<rect y="550.8" width="23" height="214.2" fill="#386CB0"/>
<rect y="765" width="23" height="229.5" fill="#7FC97F"/>
<rect y="994.5" width="23" height="902.7" fill="#BEAED4"/>
</g>
<g id="order-bar" transform="translate(1673,6.05)">
<rect y="214.2" width="23" height="30.6" fill="#BF5B17"/>
<rect y="244.8" width="23" height="45.9" fill="#F0027F"/>
<rect y="428.4" width="23" height="61.2" fill="#386CB0"/>
<rect y="550.8" width="23" height="214.2" fill="#386CB0"/>
<rect y="765" width="23" height="229.5" fill="#7FC97F"/>
<rect y="994.5" width="23" height="902.7" fill="#BEAED4"/>
</g>
<g id="family-bar" transform="translate(1700,6.05)">
<rect y="214.2" width="23" height="30.6" fill="#824530"/>
<rect y="244.8" width="23" height="15.3" fill="#562442"/>
<rect y="260.1" width="23" height="30.6" fill="#C94AC6"/>
<rect y="428.4" width="23" height="61.2" fill="#C48AC6"/>
<rect y="550.8" width="23" height="214.2" fill="#D9512C"/>
<rect y="765" width="23" height="229.5" fill="#566B35"/>
<rect y="994.5" width="23" height="321.3" fill="#663FCB"/>
<rect y="1315.8" width="23" height="153" fill="#6DCE85"/>
<rect y="1468.8" width="23" height="15.3" fill="#CC9A95"/>
<rect y="1484.1" width="23" height="30.6" fill="#663FCB"/>
<rect y="1514.7" width="23" height="15.3" fill="#CCCC4D"/>
<rect y="1530" width="23" height="30.6" fill="#663FCB"/>
<rect y="1560.6" width="23" height="61.2" fill="#CCCC4D"/>
<rect y="1621.8" width="23" height="275.4" fill="#4A3E3E"/>
</g>

<g id="gc-bar" transform="translate(1727,6.05)">
<rect y="0" width="39" height="15.4" fill="#707070"/><rect y="15.3" width="39" height="15.4" fill="#303030"/><rect y="30.6" width="39" height="15.4" fill="#474747"/><rect y="45.9" width="39" height="15.4" fill="#5a5a5a"/><rect y="61.2" width="39" height="15.4" fill="#7a7a7a"/><rect y="76.5" width="39" height="15.4" fill="#7a7a7a"/><rect y="91.8" width="39" height="15.4" fill="#050505"/><rect y="107.1" width="39" height="15.4" fill="#3c3c3c"/><rect y="122.4" width="39" height="15.4" fill="#5e5e5e"/><rect y="137.7" width="39" height="15.4" fill="#5e5e5e"/><rect y="153" width="39" height="15.4" fill="#505050"/><rect y="168.3" width="39" height="15.4" fill="#6a6a6a"/><rect y="183.6" width="39" height="15.4" fill="#8a8a8a"/><rect y="198.9" width="39" height="15.4" fill="#606060"/><rect y="214.2" width="39" height="15.4" fill="#c8c8c8"/><rect y="229.5" width="39" height="15.4" fill="#b0b0b0"/><rect y="244.8" width="39" height="15.4" fill="#2e2e2e"/><rect y="260.1" width="39" height="15.4" fill="#3a3a3a"/><rect y="275.4" width="39" height="15.4" fill="#262626"/><rect y="290.7" width="39" height="15.4" fill="#e4e4e4"/><rect y="306" width="39" height="15.4" fill="#b8b8b8"/><rect y="321.3" width="39" height="15.4" fill="#a0a0a0"/><rect y="336.6" width="39" height="15.4" fill="#9a9a9a"/><rect y="351.9" width="39" height="15.4" fill="#6a6a6a"/><rect y="367.2" width="39" height="15.4" fill="#5c5c5c"/><rect y="382.5" width="39" height="15.4" fill="#8a8a8a"/><rect y="397.8" width="39" height="15.4" fill="#7a7a7a"/><rect y="413.1" width="39" height="15.4" fill="#8a8a8a"/><rect y="428.4" width="39" height="15.4" fill="#909090"/><rect y="443.7" width="39" height="15.4" fill="#7a7a7a"/><rect y="459" width="39" height="15.4" fill="#a0a0a0"/><rect y="474.3" width="39" height="15.3" fill="#6e6e6e"/>
<rect y="550.8" width="39" height="15.4" fill="#a0a0a0"/><rect y="566.1" width="39" height="15.4" fill="#6a6a6a"/><rect y="581.4" width="39" height="15.4" fill="#a8a8a8"/><rect y="596.7" width="39" height="15.4" fill="#a0a0a0"/><rect y="612" width="39" height="15.4" fill="#d0d0d0"/><rect y="627.3" width="39" height="15.4" fill="#9a9a9a"/><rect y="642.6" width="39" height="15.4" fill="#a8a8a8"/><rect y="657.9" width="39" height="15.4" fill="#7e7e7e"/><rect y="673.2" width="39" height="15.4" fill="#969696"/><rect y="688.5" width="39" height="15.4" fill="#b8b8b8"/><rect y="703.8" width="39" height="15.4" fill="#b8b8b8"/><rect y="719.1" width="39" height="15.4" fill="#888888"/><rect y="734.4" width="39" height="15.4" fill="#9a9a9a"/><rect y="749.7" width="39" height="15.4" fill="#7e7e7e"/><rect y="765" width="39" height="15.4" fill="#d8d8d8"/><rect y="780.3" width="39" height="15.4" fill="#9a9a9a"/><rect y="795.6" width="39" height="15.4" fill="#c8c8c8"/><rect y="810.9" width="39" height="15.4" fill="#c0c0c0"/><rect y="826.2" width="39" height="15.4" fill="#a0a0a0"/><rect y="841.5" width="39" height="15.4" fill="#c0c0c0"/><rect y="856.8" width="39" height="15.4" fill="#d0d0d0"/><rect y="872.1" width="39" height="15.4" fill="#e0e0e0"/><rect y="887.4" width="39" height="15.4" fill="#a0a0a0"/><rect y="902.7" width="39" height="15.4" fill="#c4c4c4"/><rect y="918" width="39" height="15.4" fill="#b0b0b0"/><rect y="933.3" width="39" height="15.4" fill="#c8c8c8"/><rect y="948.6" width="39" height="15.4" fill="#d0d0d0"/><rect y="963.9" width="39" height="15.4" fill="#a8a8a8"/><rect y="979.2" width="39" height="15.4" fill="#a8a8a8"/><rect y="994.5" width="39" height="15.4" fill="#d4d4d4"/><rect y="1009.8" width="39" height="15.4" fill="#d0d0d0"/><rect y="1025.1" width="39" height="15.4" fill="#c0c0c0"/><rect y="1040.4" width="39" height="15.4" fill="#b8b8b8"/><rect y="1055.7" width="39" height="15.4" fill="#d0d0d0"/><rect y="1071" width="39" height="15.4" fill="#dcdcdc"/><rect y="1086.3" width="39" height="15.4" fill="#9a9a9a"/><rect y="1101.6" width="39" height="15.4" fill="#909090"/><rect y="1116.9" width="39" height="15.4" fill="#7a7a7a"/><rect y="1132.2" width="39" height="15.4" fill="#6e6e6e"/><rect y="1147.5" width="39" height="15.4" fill="#707070"/><rect y="1162.8" width="39" height="15.4" fill="#a0a0a0"/><rect y="1178.1" width="39" height="15.4" fill="#909090"/><rect y="1193.4" width="39" height="15.4" fill="#b0b0b0"/><rect y="1208.7" width="39" height="15.4" fill="#5a5a5a"/><rect y="1224" width="39" height="15.4" fill="#505050"/><rect y="1239.3" width="39" height="15.4" fill="#6e6e6e"/><rect y="1254.6" width="39" height="15.4" fill="#808080"/><rect y="1269.9" width="39" height="15.4" fill="#808080"/><rect y="1285.2" width="39" height="15.4" fill="#8a8a8a"/><rect y="1300.5" width="39" height="15.4" fill="#7a7a7a"/><rect y="1315.8" width="39" height="15.4" fill="#5e5e5e"/><rect y="1331.1" width="39" height="15.4" fill="#3a3a3a"/><rect y="1346.4" width="39" height="15.4" fill="#3c3c3c"/><rect y="1361.7" width="39" height="15.4" fill="#5a5a5a"/><rect y="1377" width="39" height="15.4" fill="#3e3e3e"/><rect y="1392.3" width="39" height="15.4" fill="#c8c8c8"/><rect y="1407.6" width="39" height="15.4" fill="#8a8a8a"/><rect y="1422.9" width="39" height="15.4" fill="#6e6e6e"/><rect y="1438.2" width="39" height="15.4" fill="#6e6e6e"/><rect y="1453.5" width="39" height="15.4" fill="#8a8a8a"/><rect y="1468.8" width="39" height="15.4" fill="#8a8a8a"/><rect y="1484.1" width="39" height="15.4" fill="#909090"/><rect y="1499.4" width="39" height="15.4" fill="#b8b8b8"/><rect y="1514.7" width="39" height="15.4" fill="#d4d4d4"/><rect y="1530" width="39" height="15.4" fill="#a8a8a8"/><rect y="1545.3" width="39" height="15.4" fill="#f4f4f4"/><rect y="1560.6" width="39" height="15.4" fill="#b8b8b8"/><rect y="1575.9" width="39" height="15.4" fill="#c4c4c4"/><rect y="1591.2" width="39" height="15.4" fill="#b8b8b8"/><rect y="1606.5" width="39" height="15.4" fill="#dcdcdc"/><rect y="1621.8" width="39" height="15.4" fill="#a0a0a0"/><rect y="1637.1" width="39" height="15.4" fill="#a8a8a8"/><rect y="1652.4" width="39" height="15.4" fill="#8e8e8e"/><rect y="1667.7" width="39" height="15.4" fill="#c8c8c8"/><rect y="1683" width="39" height="15.4" fill="#c8c8c8"/><rect y="1698.3" width="39" height="15.4" fill="#c8c8c8"/><rect y="1713.6" width="39" height="15.4" fill="#7e7e7e"/><rect y="1728.9" width="39" height="15.4" fill="#a8a8a8"/><rect y="1744.2" width="39" height="15.4" fill="#d0d0d0"/><rect y="1759.5" width="39" height="15.4" fill="#c0c0c0"/><rect y="1774.8" width="39" height="15.4" fill="#c4c4c4"/><rect y="1790.1" width="39" height="15.4" fill="#888888"/><rect y="1805.4" width="39" height="15.4" fill="#c0c0c0"/><rect y="1820.7" width="39" height="15.4" fill="#a8a8a8"/><rect y="1836" width="39" height="15.4" fill="#b8b8b8"/><rect y="1851.3" width="39" height="15.4" fill="#c0c0c0"/><rect y="1866.6" width="39" height="15.4" fill="#8a8a8a"/><rect y="1881.9" width="39" height="15.3" fill="#b8b8b8"/>
</g>

<g id="column-numbers" class="cl" font-size="27" text-anchor="middle">
<text x="1468" y="1931">①</text>
<text x="1658" y="1931">②</text>
<text x="1685.5" y="1931">③</text>
<text x="1711.5" y="1931">④</text>
<text x="1745.5" y="1931">⑤</text>
</g>

<g id="legend">
<path d="M11.5 1950.7H1735Q1760.5 1950.7 1760.5 1976V2335H11.5Z" fill="#bdbdbd"/>
<path d="M21.5 1960H1730Q1750.3 1960 1750.3 1981V2326.7H21.5Z" fill="#fff"/>
<path d="M21.5 1960H1730Q1750.3 1960 1750.3 1981V1996H21.5Z" fill="#045DD2"/>
<line x1="21.5" y1="1996" x2="1750.3" y2="1996" stroke="#5d95e3" stroke-width="2"/>
<text x="28.7" y="1986.7" font-family="DejaVu Sans,sans-serif" font-size="22" font-weight="bold" fill="#fff">Color legend:</text>

<g class="cl" font-size="38" text-anchor="middle">
<text x="68.3" y="2052">①</text>
<text x="305.7" y="2052">②</text>
<text x="531" y="2052">③</text>
<text x="776" y="2052">④</text>
<text x="1541" y="2052">⑤</text>
</g>
<text class="lh" x="105" y="2045">Phylum:</text>
<text class="lh" x="342.7" y="2045">Class:</text>
<text class="lh" x="569.5" y="2045">Order:</text>
<text class="lh" x="806.5" y="2045">Family:</text>
<text class="lh" x="1575" y="2045">G+C content:</text>

<g id="legend-phylum" transform="translate(52.8,2076.7)">
<rect class="sw" y="0" width="34" height="33.2" fill="#FDC086"/><rect class="sw" y="33.2" width="34" height="33.2" fill="#BEAED4"/><rect class="sw" y="66.4" width="34" height="33.2" fill="#F0027F"/><rect class="sw" y="99.6" width="34" height="33.2" fill="#7FC97F"/><rect class="sw" y="132.8" width="34" height="33.2" fill="#386CB0"/><rect class="sw" y="166" width="34" height="33.2" fill="#FFFF99"/>
<text class="ll" x="53.2" y="22.6">Verrucomicrobia</text><text class="ll" x="53.2" y="55.8">Planctomycetes</text><text class="ll" x="53.2" y="89">Rhodothermaeota</text><text class="ll" x="53.2" y="122.2">Chlorobi</text><text class="ll" x="53.2" y="155.4">Ignavibacteriae</text><text class="ll" x="53.2" y="188.6">Bacteroidetes</text>
</g>
<g id="legend-class" transform="translate(288.7,2076.7)">
<rect class="sw" y="0" width="34" height="33.2" fill="#BEAED4"/><rect class="sw" y="33.2" width="34" height="33.2" fill="#F0027F"/><rect class="sw" y="66.4" width="34" height="33.2" fill="#7FC97F"/><rect class="sw" y="99.6" width="34" height="33.2" fill="#FFFF99"/><rect class="sw" y="132.8" width="34" height="33.2" fill="#FDC086"/><rect class="sw" y="166" width="34" height="33.2" fill="#386CB0"/><rect class="sw" y="199.2" width="34" height="33.2" fill="#BF5B17"/>
<text class="ll" x="54" y="22.6">Cytophagia</text><text class="ll" x="54" y="55.8">Rhodothermia</text><text class="ll" x="54" y="89">Sphingobacteriia</text><text class="ll" x="54" y="122.2">Flavobacteriia</text><text class="ll" x="54" y="155.4">Bacteroidia</text><text class="ll" x="54" y="188.6">Chitinophagia</text><text class="ll" x="54" y="221.8">Balneolia</text>
</g>
<g id="legend-order" transform="translate(515.5,2076.7)">
<rect class="sw" y="0" width="34" height="33.2" fill="#BEAED4"/><rect class="sw" y="33.2" width="34" height="33.2" fill="#F0027F"/><rect class="sw" y="66.4" width="34" height="33.2" fill="#7FC97F"/><rect class="sw" y="99.6" width="34" height="33.2" fill="#FFFF99"/><rect class="sw" y="132.8" width="34" height="33.2" fill="#FDC086"/><rect class="sw" y="166" width="34" height="33.2" fill="#386CB0"/><rect class="sw" y="199.2" width="34" height="33.2" fill="#BF5B17"/>
<text class="ll" x="54" y="22.6">Cytophagales</text><text class="ll" x="54" y="55.8">Rhodothermales</text><text class="ll" x="54" y="89">Sphingobacteriales</text><text class="ll" x="54" y="122.2">Flavobacteriales</text><text class="ll" x="54" y="155.4">Bacteroidales</text><text class="ll" x="54" y="188.6">Chitinophagales</text><text class="ll" x="54" y="221.8">Balneolales</text>
</g>
<g id="legend-family-1" transform="translate(760,2076.7)">
<rect class="sw" y="0" width="34" height="33.2" fill="#CCCC4D"/><rect class="sw" y="33.2" width="34" height="33.2" fill="#D9512C"/><rect class="sw" y="66.4" width="34" height="33.2" fill="#C9488A"/><rect class="sw" y="99.6" width="34" height="33.2" fill="#CC9A95"/><rect class="sw" y="132.8" width="34" height="33.2" fill="#C78AC6"/><rect class="sw" y="166" width="34" height="33.2" fill="#6CC5B6"/><rect class="sw" y="199.2" width="34" height="33.2" fill="#663FCB"/>
<text class="ll" x="54" y="22.6">Flammeovirgaceae</text><text class="ll" x="54" y="55.8">Chitinophagaceae</text><text class="ll" x="54" y="89">Marinilabiliaceae</text><text class="ll" x="54" y="122.2">Thermonemataceae</text><text class="ll" x="54" y="155.4">Saprospiraceae</text><text class="ll" x="54" y="188.6">Odoribacteraceae</text><text class="ll" x="54" y="221.8">Cytophagaceae</text>
</g>
<g id="legend-family-2" transform="translate(1006.3,2076.7)">
<rect class="sw" y="0" width="34" height="33.2" fill="#562442"/><rect class="sw" y="33.2" width="34" height="33.2" fill="#824530"/><rect class="sw" y="66.4" width="34" height="33.2" fill="#4A3E3E"/><rect class="sw" y="99.6" width="34" height="33.2" fill="#4F6680"/><rect class="sw" y="132.8" width="34" height="33.2" fill="#CC9041"/><rect class="sw" y="166" width="34" height="33.2" fill="#CC4455"/><rect class="sw" y="199.2" width="34" height="33.2" fill="#77D448"/>
<text class="ll" x="53.4" y="22.6">Rhodothermaceae</text><text class="ll" x="53.4" y="55.8">Balneolaceae</text><text class="ll" x="53.4" y="89">Cyclobacteriaceae</text><text class="ll" x="53.4" y="122.2">Prevotellaceae</text><text class="ll" x="53.4" y="155.4">Prolixibacteraceae</text><text class="ll" x="53.4" y="188.6">Porphyromonadaceae</text><text class="ll" x="53.4" y="221.8">Crocinitomicaceae</text>
</g>
<g id="legend-family-3" transform="translate(1262.8,2076.7)">
<rect class="sw" y="0" width="34" height="33.2" fill="#C94AC6"/><rect class="sw" y="33.2" width="34" height="33.2" fill="#6D79D1"/><rect class="sw" y="66.4" width="34" height="33.2" fill="#4F2A78"/><rect class="sw" y="99.6" width="34" height="33.2" fill="#566B35"/><rect class="sw" y="132.8" width="34" height="33.2" fill="#6DCE85"/><rect class="sw" y="166" width="34" height="33.2" fill="#FFFF99"/><rect class="sw" y="199.2" width="34" height="33.2" fill="#93B4D9"/>
<text class="ll" x="53.5" y="22.6">Salinibacteraceae</text><text class="ll" x="53.5" y="55.8">Rikenellaceae</text><text class="ll" x="53.5" y="89">Cryomorphaceae</text><text class="ll" x="53.5" y="122.2">Sphingobacteriaceae</text><text class="ll" x="53.5" y="155.4">Hymenobacteraceae</text><text class="ll" x="53.5" y="188.6">Flavobacteriaceae</text><text class="ll" x="53.5" y="221.8">Bacteroidaceae</text>
</g>
<g id="legend-gc" transform="translate(1526,2076.7)">
<rect class="sw" y="0" width="34" height="33.3" fill="#000"/><rect class="sw" y="33.3" width="34" height="33.3" fill="#b3b3b3"/><rect class="sw" y="66.6" width="34" height="33.4" fill="#fff"/>
<text class="lr" x="49" y="22.6">Max.: 73.2 %</text><text class="lr" x="49" y="55.8">Avg.: 42.6 %</text><text class="lr" x="49" y="89">Min.: 29.5 %</text>
<line x1="-5" y1="120" x2="184.5" y2="120" stroke="#333" stroke-width="2"/>
<rect class="sw" y="155" width="34" height="33.3" fill="#fff"/>
<text class="lr" x="53.6" y="181">not discussed</text>
</g>
</g>
</svg>
